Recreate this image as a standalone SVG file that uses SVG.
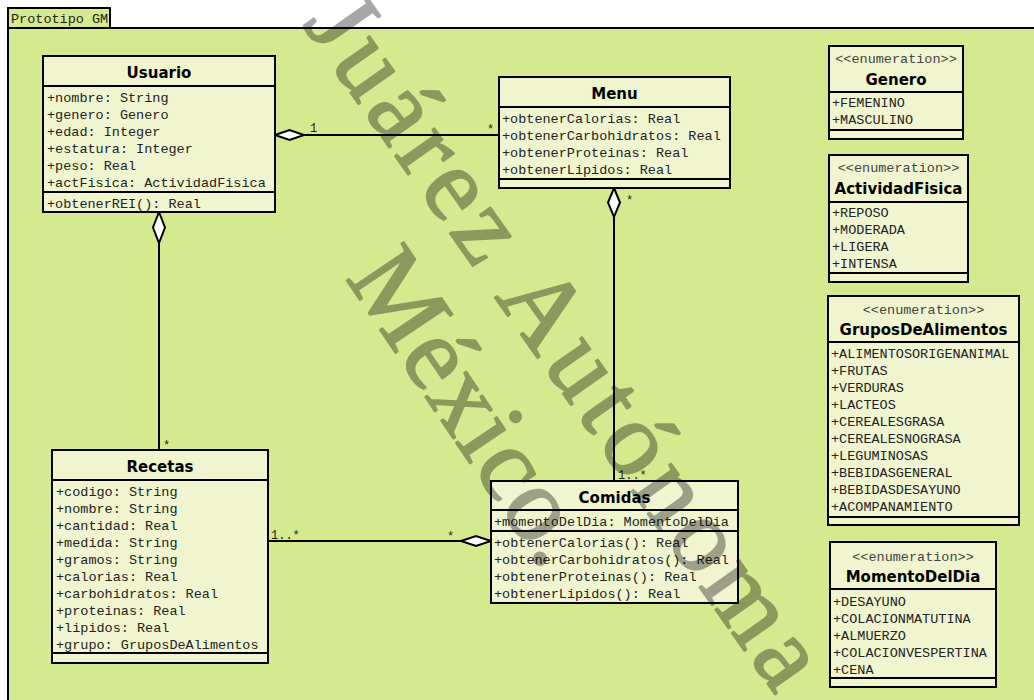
<svg xmlns="http://www.w3.org/2000/svg" width="1034" height="700" viewBox="0 0 1034 700">
<style>
.frame{fill:#d5ea8f;stroke:#000;stroke-width:2}
.box{fill:#f0f5cf;stroke:#000;stroke-width:2}
.sep{stroke:#000;stroke-width:2}
.title{font-family:"DejaVu Sans",Verdana,sans-serif;font-weight:bold;font-size:15px;fill:#000;text-anchor:middle}
.m{font-family:"Liberation Mono","Courier New",monospace;font-size:13.5px;fill:#222}
.st{font-family:"Liberation Mono","Courier New",monospace;font-size:13.5px;fill:#444;text-anchor:middle}
.lbl{font-family:"Liberation Mono","Courier New",monospace;font-size:12px;fill:#222}
.conn{stroke:#000;stroke-width:2;fill:none}
.dia{fill:#fff;stroke:#000;stroke-width:2}
.wm{font-family:"Liberation Serif","Times New Roman",serif;font-size:105px;fill:#000;stroke:#000;stroke-width:2;stroke-linejoin:round}
</style>
<rect x="0" y="0" width="1034" height="700" fill="#fff"/>
<g id="frame">
<rect class="frame" x="8" y="28" width="1040" height="690"/>
<rect class="frame" x="8" y="8" width="102" height="20"/>
<text class="m" x="11" y="23">Prototipo GM</text>
</g>
<g id="connectors">
<line class="conn" x1="304" y1="135" x2="499" y2="135"/>
<polygon class="dia" points="275,135 289.5,130 304,135 289.5,140"/>
<text class="lbl" x="310" y="132">1</text>
<text class="lbl" x="487" y="133">*</text>
<line class="conn" x1="614" y1="217" x2="614" y2="481"/>
<polygon class="dia" points="614,188 620,202.5 614,217 608,202.5"/>
<text class="lbl" x="626" y="204">*</text>
<text class="lbl" x="618" y="479">1..*</text>
<line class="conn" x1="159" y1="243" x2="159" y2="450"/>
<polygon class="dia" points="159,212 165,227.5 159,243 153,227.5"/>
<text class="lbl" x="163" y="449">*</text>
<line class="conn" x1="268" y1="541" x2="461" y2="541"/>
<polygon class="dia" points="461,541 476,536 491,541 476,546"/>
<text class="lbl" x="271" y="539">1..*</text>
<text class="lbl" x="447" y="540">*</text>
</g>
<g id="Usuario">
<rect class="box" x="43" y="56" width="232" height="156"/>
<line class="sep" x1="43" y1="86" x2="275" y2="86"/>
<line class="sep" x1="43" y1="192" x2="275" y2="192"/>
<text class="title" x="159" y="78">Usuario</text>
<text class="m" x="47" y="102">+nombre: String</text>
<text class="m" x="47" y="119">+genero: Genero</text>
<text class="m" x="47" y="136">+edad: Integer</text>
<text class="m" x="47" y="153">+estatura: Integer</text>
<text class="m" x="47" y="170">+peso: Real</text>
<text class="m" x="47" y="187">+actFisica: ActividadFisica</text>
<text class="m" x="47" y="208">+obtenerREI(): Real</text>
</g>
<g id="Menu">
<rect class="box" x="499" y="77" width="231" height="111"/>
<line class="sep" x1="499" y1="107" x2="730" y2="107"/>
<line class="sep" x1="499" y1="179" x2="730" y2="179"/>
<text class="title" x="614.5" y="99">Menu</text>
<text class="m" x="502" y="123">+obtenerCalorias: Real</text>
<text class="m" x="502" y="140">+obtenerCarbohidratos: Real</text>
<text class="m" x="502" y="157">+obtenerProteinas: Real</text>
<text class="m" x="502" y="174">+obtenerLipidos: Real</text>
</g>
<g id="Recetas">
<rect class="box" x="52" y="450" width="216" height="213"/>
<line class="sep" x1="52" y1="480" x2="268" y2="480"/>
<line class="sep" x1="52" y1="653" x2="268" y2="653"/>
<text class="title" x="160" y="472">Recetas</text>
<text class="m" x="56" y="496">+codigo: String</text>
<text class="m" x="56" y="513">+nombre: String</text>
<text class="m" x="56" y="530">+cantidad: Real</text>
<text class="m" x="56" y="547">+medida: String</text>
<text class="m" x="56" y="564">+gramos: String</text>
<text class="m" x="56" y="581">+calorias: Real</text>
<text class="m" x="56" y="598">+carbohidratos: Real</text>
<text class="m" x="56" y="615">+proteinas: Real</text>
<text class="m" x="56" y="632">+lipidos: Real</text>
<text class="m" x="56" y="649">+grupo: GruposDeAlimentos</text>
</g>
<g id="Comidas">
<rect class="box" x="491" y="481" width="247" height="122"/>
<line class="sep" x1="491" y1="510" x2="738" y2="510"/>
<line class="sep" x1="491" y1="531" x2="738" y2="531"/>
<text class="title" x="614.5" y="503">Comidas</text>
<text class="m" x="494" y="526">+momentoDelDia: MomentoDelDia</text>
<text class="m" x="494" y="547">+obtenerCalorias(): Real</text>
<text class="m" x="494" y="564">+obtenerCarbohidratos(): Real</text>
<text class="m" x="494" y="581">+obtenerProteinas(): Real</text>
<text class="m" x="494" y="598">+obtenerLipidos(): Real</text>
</g>
<g id="Genero">
<rect class="box" x="829" y="46" width="134" height="93"/>
<line class="sep" x1="829" y1="92" x2="963" y2="92"/>
<line class="sep" x1="829" y1="130" x2="963" y2="130"/>
<text class="st" x="896" y="63">&lt;&lt;enumeration&gt;&gt;</text>
<text class="title" x="896" y="85">Genero</text>
<text class="m" x="832" y="107">+FEMENINO</text>
<text class="m" x="832" y="124">+MASCULINO</text>
</g>
<g id="ActividadFisica">
<rect class="box" x="829" y="155" width="139" height="127"/>
<line class="sep" x1="829" y1="202" x2="968" y2="202"/>
<line class="sep" x1="829" y1="273" x2="968" y2="273"/>
<text class="st" x="898.5" y="172">&lt;&lt;enumeration&gt;&gt;</text>
<text class="title" x="898.5" y="194">ActividadFisica</text>
<text class="m" x="832" y="217">+REPOSO</text>
<text class="m" x="832" y="234">+MODERADA</text>
<text class="m" x="832" y="251">+LIGERA</text>
<text class="m" x="832" y="268">+INTENSA</text>
</g>
<g id="GruposDeAlimentos">
<rect class="box" x="828" y="296" width="191" height="229"/>
<line class="sep" x1="828" y1="342" x2="1019" y2="342"/>
<line class="sep" x1="828" y1="517" x2="1019" y2="517"/>
<text class="st" x="923.5" y="314">&lt;&lt;enumeration&gt;&gt;</text>
<text class="title" x="923.5" y="335">GruposDeAlimentos</text>
<text class="m" x="831" y="358">+ALIMENTOSORIGENANIMAL</text>
<text class="m" x="831" y="375">+FRUTAS</text>
<text class="m" x="831" y="392">+VERDURAS</text>
<text class="m" x="831" y="409">+LACTEOS</text>
<text class="m" x="831" y="426">+CEREALESGRASA</text>
<text class="m" x="831" y="443">+CEREALESNOGRASA</text>
<text class="m" x="831" y="460">+LEGUMINOSAS</text>
<text class="m" x="831" y="477">+BEBIDASGENERAL</text>
<text class="m" x="831" y="494">+BEBIDASDESAYUNO</text>
<text class="m" x="831" y="511">+ACOMPANAMIENTO</text>
</g>
<g id="MomentoDelDia">
<rect class="box" x="830" y="542" width="166" height="145"/>
<line class="sep" x1="830" y1="589" x2="996" y2="589"/>
<line class="sep" x1="830" y1="678" x2="996" y2="678"/>
<text class="st" x="913" y="561">&lt;&lt;enumeration&gt;&gt;</text>
<text class="title" x="913" y="582">MomentoDelDia</text>
<text class="m" x="833" y="606">+DESAYUNO</text>
<text class="m" x="833" y="623">+COLACIONMATUTINA</text>
<text class="m" x="833" y="640">+ALMUERZO</text>
<text class="m" x="833" y="657">+COLACIONVESPERTINA</text>
<text class="m" x="833" y="674">+CENA</text>
</g>
<g id="watermark" opacity="0.34">
<text class="wm" transform="translate(302,24) rotate(54.8)" x="0" y="0" textLength="822" lengthAdjust="spacing">Juárez Autónoma</text>
<text class="wm" transform="translate(345,278) rotate(56)" x="0" y="0" textLength="355" lengthAdjust="spacing">México.</text>
</g>
</svg>
